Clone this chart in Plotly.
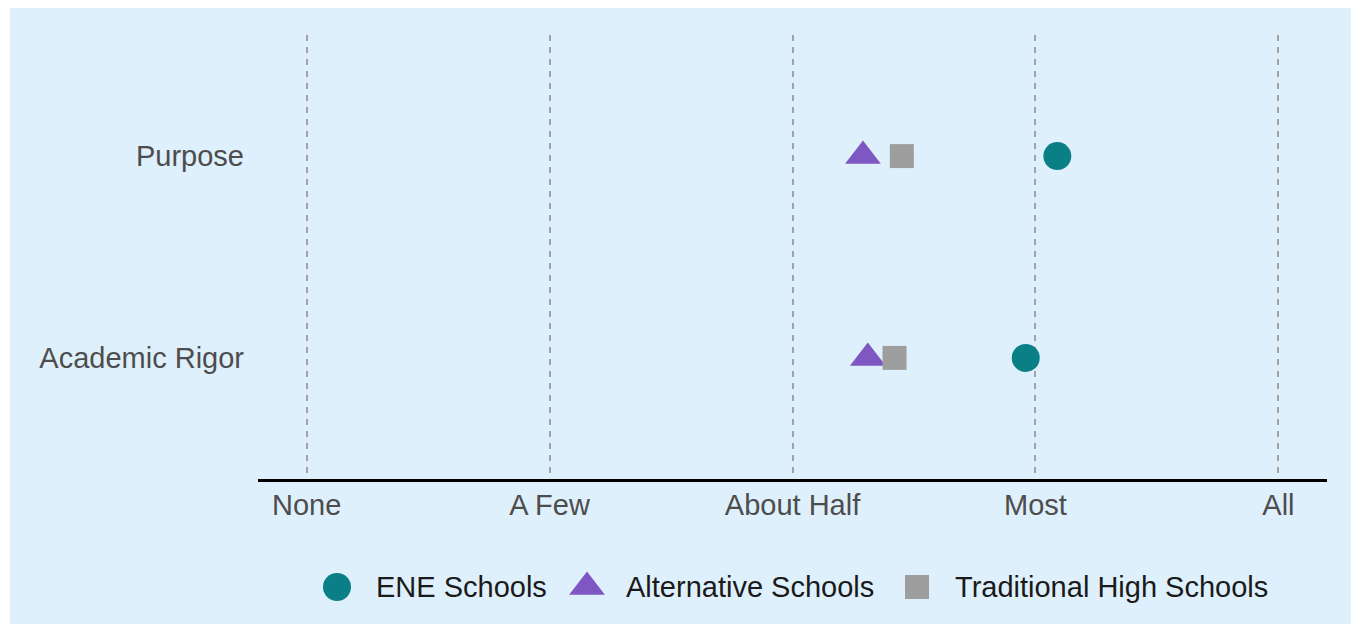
import plotly.graph_objects as go

# ---- data ----
categories = ["Purpose", "Academic Rigor"]
ene_schools = [3.09, 2.96]
alternative_schools = [2.29, 2.31]
traditional_schools = [2.45, 2.42]

tick_vals = [0, 1, 2, 3, 4]
tick_labels = ["None", "A Few", "About Half", "Most", "All"]

series_names = ["ENE Schools", "Alternative Schools", "Traditional High Schools"]
series_colors = ["#0B7F86", "#7E57C2", "#9E9E9E"]
series_symbols = ["circle", "triangle-up", "square"]
series_sizes = [28, 31, 24]
series_values = [ene_schools, alternative_schools, traditional_schools]

# page has an 8px body margin: figure drawn from (8, 8)
OFF = 8
W, H = 1359, 624 - OFF
EXTRA_R = W - (1359 - OFF)

# legend layout (pixel positions in figure coords, via auxiliary axis)
legend_marker_x = [337 - OFF, 587 - OFF, 917 - OFF]
legend_text_x = [374 - OFF, 624 - OFF, 953 - OFF]

FONT = "Liberation Sans, Arial, sans-serif"
BG = "#DFF0FD"

fig = go.Figure()

for name, vals, col, sym, sz in zip(series_names, series_values, series_colors,
                                     series_symbols, series_sizes):
    fig.add_trace(go.Scatter(
        x=vals, y=categories, mode="markers", name=name,
        marker=dict(color=col, symbol=sym, size=sz, line=dict(width=0)),
        showlegend=False, xaxis="x", yaxis="y"))

ml, mr, mt, mb = 258 - OFF, 32 + EXTRA_R, 35 - OFF, 2
pw = W - ml - mr
ph = H - mt - mb

# custom legend
for name, col, sym, sz, mx, tx in zip(series_names, series_colors, series_symbols,
                                      series_sizes, legend_marker_x, legend_text_x):
    fig.add_trace(go.Scatter(
        x=[mx], y=[0], mode="markers", showlegend=False, hoverinfo="skip",
        marker=dict(color=col, symbol=sym, size=sz, line=dict(width=0)),
        xaxis="x2", yaxis="y2"))
    fig.add_annotation(x=tx, y=0, xref="x2", yref="y2", text=name,
                       showarrow=False, xanchor="left", yanchor="middle",
                       font=dict(family=FONT, size=29, color="#1A1A1A"))

axis_bottom_px = 479 - OFF
legend_center_px = 587 - OFF
y_dom0 = (H - mb - axis_bottom_px) / ph
leg_dom1 = 2 * (H - mb - legend_center_px) / ph

fig.update_layout(
    width=W, height=H,
    margin=dict(l=ml, r=mr, t=mt, b=mb, pad=0),
    paper_bgcolor=BG,
    plot_bgcolor="rgba(0,0,0,0)",
    font=dict(family=FONT, size=29, color="#4D4D4D"),
    showlegend=False,
    xaxis=dict(
        range=[-0.2, 4.2], tickvals=tick_vals, ticktext=tick_labels,
        showgrid=True, gridcolor="#A3A3A3", gridwidth=1.5, griddash="6px,6px",
        showline=True, linecolor="black", linewidth=3, zeroline=False,
        ticks="", ticklabelstandoff=-2, anchor="y",
        tickfont=dict(family=FONT, size=29, color="#4D4D4D")),
    yaxis=dict(
        domain=[y_dom0, 1], type="category",
        categoryorder="array", categoryarray=["Academic Rigor", "Purpose"],
        range=[-0.6, 1.6], showgrid=False, zeroline=False, showline=False,
        ticks="", ticklabelstandoff=13, anchor="x",
        tickfont=dict(family=FONT, size=29, color="#4D4D4D")),
    xaxis2=dict(range=[ml, ml + pw], visible=False, anchor="y2",
                domain=[0, 1]),
    yaxis2=dict(range=[-1, 1], visible=False, anchor="x2",
                domain=[0, leg_dom1]),
    shapes=[dict(type="rect", xref="paper", yref="paper",
                 x0=(-ml - 2) / pw, x1=(2 - ml) / pw,
                 y0=-0.05, y1=(H - mb) / ph + 0.05,
                 fillcolor="white", line=dict(width=0), layer="below")],
)

fig.write_html("out.html")
